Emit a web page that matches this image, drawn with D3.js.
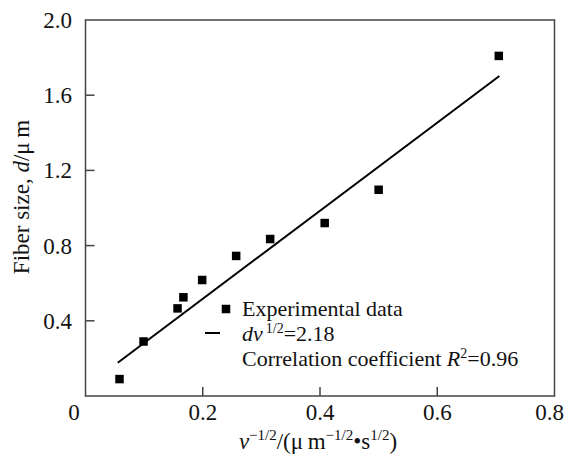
<!DOCTYPE html>
<html>
<head>
<meta charset="utf-8">
<script src="https://cdn.jsdelivr.net/npm/d3@7"></script>
<style>
  body { margin: 0; background: #fff; }
  svg text { fill: #111; }
</style>
</head>
<body>
<svg id="chart" width="566" height="454" font-family="'Liberation Serif', 'Times New Roman', Times, serif"></svg>
<script>
// measured data points (v^-1/2, fibre size)
const xValues = [0.058, 0.099, 0.157, 0.167, 0.199, 0.257, 0.315, 0.408, 0.500, 0.705];
const yValues = [0.09, 0.29, 0.466, 0.525, 0.617, 0.745, 0.835, 0.92, 1.097, 1.809];
// fitted line end points
const fitX = [0.055, 0.706];
const fitY = [0.177, 1.702];
const xTicks = [0.2, 0.4, 0.6, 0.8];
const yTicks = [0.4, 0.8, 1.2, 1.6, 2.0];

const svg = d3.select("#chart");
const plotLeft = 85.5, plotRight = 554.5, plotTop = 20, plotBottom = 396;

const x = d3.scaleLinear().domain([0, 0.8]).range([plotLeft, plotRight]);
const y = d3.scaleLinear().domain([0, 2]).range([plotBottom, plotTop]);

// frame
svg.append("rect")
    .attr("x", plotLeft).attr("y", plotTop)
    .attr("width", plotRight - plotLeft).attr("height", plotBottom - plotTop)
    .attr("fill", "none")
    .attr("stroke", "#444")
    .attr("stroke-width", 1.5);

// inward ticks
svg.selectAll(".xtick")
    .data(xTicks.filter(d => d < 0.8))
    .enter().append("line")
    .attr("x1", d => x(d)).attr("x2", d => x(d))
    .attr("y1", plotBottom).attr("y2", plotBottom - 9)
    .attr("stroke", "#444").attr("stroke-width", 1.5);

svg.selectAll(".ytick")
    .data(yTicks.filter(d => d < 2))
    .enter().append("line")
    .attr("x1", plotLeft).attr("x2", plotLeft + 9)
    .attr("y1", d => y(d)).attr("y2", d => y(d))
    .attr("stroke", "#444").attr("stroke-width", 1.5);

// tick labels (last one pulled in a little so it stays on the page)
svg.selectAll(".xlab")
    .data(xTicks)
    .enter().append("text")
    .attr("x", d => d === 0.8 ? x(d) - 5 : x(d))
    .attr("y", 420)
    .attr("text-anchor", "middle")
    .attr("font-size", 23)
    .text(d => d.toFixed(1));

svg.selectAll(".ylab")
    .data(yTicks)
    .enter().append("text")
    .attr("x", 72)
    .attr("y", d => y(d) + 8)
    .attr("text-anchor", "end")
    .attr("font-size", 23)
    .text(d => d.toFixed(1));

svg.append("text")
    .attr("x", 74).attr("y", 420)
    .attr("text-anchor", "middle")
    .attr("font-size", 23)
    .text("0");

// axis titles
const xt = svg.append("text")
    .attr("x", 318).attr("y", 449)
    .attr("text-anchor", "middle")
    .attr("font-size", 23);
xt.append("tspan").attr("font-style", "italic").text("v");
xt.append("tspan").attr("font-size", 15).attr("dy", -9).text("\u22121/2");
xt.append("tspan").attr("dy", 9).text("/(\u03bc\u2009m");
xt.append("tspan").attr("font-size", 15).attr("dy", -9).text("\u22121/2");
xt.append("tspan").attr("dy", 9).text("\u2022s");
xt.append("tspan").attr("font-size", 15).attr("dy", -9).text("1/2");
xt.append("tspan").attr("dy", 9).text(")");

const yt = svg.append("text")
    .attr("transform", "translate(29,197) rotate(-90)")
    .attr("text-anchor", "middle")
    .attr("font-size", 23);
yt.append("tspan").text("Fiber size, ");
yt.append("tspan").attr("font-style", "italic").text("d");
yt.append("tspan").text("/\u03bc\u2009m");

// fitted line
const line = d3.line().x(d => x(d[0])).y(d => y(d[1]));
svg.append("path")
    .datum(fitX.map((v, i) => [v, fitY[i]]))
    .attr("d", line)
    .attr("fill", "none")
    .attr("stroke", "#000")
    .attr("stroke-width", 2);

// data squares
const s = 8.5;
svg.selectAll(".pt")
    .data(xValues.map((v, i) => [v, yValues[i]]))
    .enter().append("rect")
    .attr("x", d => x(d[0]) - s / 2)
    .attr("y", d => y(d[1]) - s / 2)
    .attr("width", s).attr("height", s)
    .attr("fill", "#000");

// legend
svg.append("rect")
    .attr("x", 226 - s / 2).attr("y", 309 - s / 2)
    .attr("width", s).attr("height", s)
    .attr("fill", "#000");
svg.append("text")
    .attr("x", 242).attr("y", 316)
    .attr("font-size", 22)
    .text("Experimental data");

svg.append("line")
    .attr("x1", 205).attr("x2", 220)
    .attr("y1", 333).attr("y2", 333)
    .attr("stroke", "#000").attr("stroke-width", 2);
const l2 = svg.append("text")
    .attr("x", 242).attr("y", 341)
    .attr("font-size", 22);
l2.append("tspan").attr("font-style", "italic").text("dv");
l2.append("tspan").attr("font-size", 14).attr("dy", -8).attr("dx", 3).text("1/2");
l2.append("tspan").attr("dy", 8).text("=2.18");

const l3 = svg.append("text")
    .attr("x", 242).attr("y", 366)
    .attr("font-size", 22);
l3.append("tspan").text("Correlation coefficient ");
l3.append("tspan").attr("font-style", "italic").text("R");
l3.append("tspan").attr("font-size", 14).attr("dy", -8).text("2");
l3.append("tspan").attr("dy", 8).text("=0.96");
</script>
</body>
</html>
